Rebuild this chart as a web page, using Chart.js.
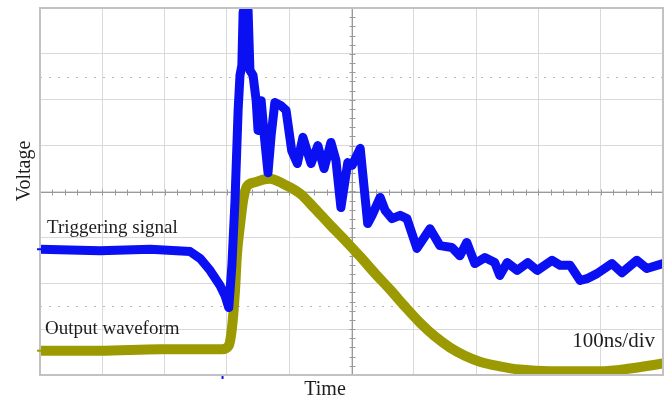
<!DOCTYPE html>
<html>
<head>
<meta charset="utf-8">
<script src="https://cdn.jsdelivr.net/npm/chart.js@4/dist/chart.umd.min.js"></script>
<style>
  html, body { margin: 0; padding: 0; background: #ffffff; }
  #wrap { width: 672px; height: 401px; position: relative; }
</style>
</head>
<body>
<div id="wrap"><canvas id="scope" width="672" height="401"></canvas></div>
<script>
// Oscilloscope capture: 10 horizontal divisions of 100 ns, 8 vertical divisions.
const timeTicks = [0, 100, 200, 300, 400, 500, 600, 700, 800, 900, 1000];   // ns
const voltTicks = [-4, -3, -2, -1, 0, 1, 2, 3, 4];                         // divisions

// Triggering signal (blue trace)
const trigTime = [0, 96, 177, 241, 257, 273, 289, 297, 303, 308, 313, 318, 321, 324, 326, 329, 334,
  337, 342, 347, 350, 355, 360, 366, 371, 377, 387, 395, 404, 413, 422, 435, 446, 456, 467, 475,
  483, 494, 501, 514, 526, 533, 546, 554, 565, 578, 589, 605, 626, 642, 661, 674, 685, 698, 714,
  730, 738, 750, 766, 783, 798, 822, 835, 851, 867, 878, 894, 918, 934, 958, 974, 1000];
const trigVolt = [-1.26, -1.29, -1.26, -1.31, -1.46, -1.72, -2.05, -2.27, -2.53, -1.61, -0.20, 1.77,
  2.53, 2.75, 3.90, 4.08, 3.95, 2.64, 2.53, 1.98, 1.33, 1.98, 1.22, 0.41, 1.22, 1.94, 1.87, 1.77,
  0.89, 0.61, 1.18, 0.61, 1.00, 0.50, 1.07, 0.68, -0.35, 0.63, 0.57, 0.94, -0.70, -0.52, -0.13,
  -0.41, -0.59, -0.52, -0.59, -1.24, -0.81, -1.18, -1.22, -1.40, -1.11, -1.57, -1.44, -1.55, -1.83,
  -1.55, -1.72, -1.55, -1.72, -1.50, -1.61, -1.61, -1.94, -1.90, -1.79, -1.57, -1.77, -1.50, -1.68,
  -1.57];

// Output waveform (olive trace)
const outTime = [0, 96, 193, 292, 303, 308, 313, 316, 321, 326, 332, 345, 358, 369, 390, 417, 441,
  465, 490, 514, 538, 562, 586, 610, 634, 658, 682, 706, 738, 770, 819, 899, 947, 1000];
const outVolt = [-3.47, -3.47, -3.44, -3.44, -3.36, -2.99, -2.16, -1.40, -0.74, -0.20, 0.11, 0.20,
  0.26, 0.28, 0.17, -0.04, -0.37, -0.72, -1.07, -1.42, -1.79, -2.14, -2.51, -2.86, -3.16, -3.40,
  -3.58, -3.71, -3.81, -3.88, -3.92, -3.92, -3.86, -3.75];

const seriesNames = ['Triggering signal', 'Output waveform'];
const axisNames = ['Time', 'Voltage'];
const scaleNote = '100ns/div';

const toPoints = (xs, ys) => xs.map((x, i) => ({ x: x, y: ys[i] }));

const BLUE = '#0a10f2';
const OLIVE = '#9c9a02';
const SERIF = '"Liberation Serif", "Times New Roman", serif';

// Graticule extras: centre axes with minor ticks, dotted cursor lines, frame, labels
const scopeDecor = {
  id: 'scopeDecor',
  beforeDatasetsDraw(chart) {
    const { ctx, chartArea: a, scales: { x, y } } = chart;
    ctx.save();
    // dotted cursor lines
    ctx.strokeStyle = '#b8b8b8';
    ctx.lineWidth = 1;
    ctx.setLineDash([2, 7]);
    [2.5, -2.5].forEach(v => {
      const py = Math.round(y.getPixelForValue(v)) + 0.5;
      ctx.beginPath(); ctx.moveTo(a.left, py); ctx.lineTo(a.right, py); ctx.stroke();
    });
    ctx.setLineDash([]);
    // centre axes
    const cx = Math.round(x.getPixelForValue(500)) + 0.5;
    const cy = Math.round(y.getPixelForValue(0)) + 0.5;
    ctx.strokeStyle = '#9a9a9a';
    ctx.lineWidth = 1;
    ctx.beginPath();
    ctx.moveTo(a.left, cy); ctx.lineTo(a.right, cy);
    ctx.moveTo(cx, a.top); ctx.lineTo(cx, a.bottom);
    ctx.stroke();
    ctx.beginPath();
    for (let t = 0; t <= 1000; t += 20) {
      const px = Math.round(x.getPixelForValue(t)) + 0.5;
      ctx.moveTo(px, cy - 3); ctx.lineTo(px, cy + 3);
    }
    for (let v = -4; v <= 4; v += 0.2) {
      const py = Math.round(y.getPixelForValue(v)) + 0.5;
      ctx.moveTo(cx - 3, py); ctx.lineTo(cx + 3, py);
    }
    ctx.stroke();
    ctx.restore();
  },
  afterDatasetsDraw(chart) {
    const { ctx, chartArea: a, scales: { x, y } } = chart;
    ctx.save();
    // frame
    ctx.strokeStyle = '#c2c2c2';
    ctx.lineWidth = 2;
    ctx.strokeRect(a.left, a.top, a.right - a.left, a.bottom - a.top);
    // channel level and trigger markers
    ctx.lineWidth = 2;
    ctx.strokeStyle = BLUE;
    ctx.beginPath();
    ctx.moveTo(a.left - 3, y.getPixelForValue(trigVolt[0]));
    ctx.lineTo(a.left + 1, y.getPixelForValue(trigVolt[0]));
    const trigX = x.getPixelForValue(293);
    ctx.moveTo(trigX, a.bottom + 1); ctx.lineTo(trigX, a.bottom + 4);
    ctx.stroke();
    ctx.strokeStyle = OLIVE;
    ctx.beginPath();
    ctx.moveTo(a.left - 3, y.getPixelForValue(outVolt[0]));
    ctx.lineTo(a.left + 1, y.getPixelForValue(outVolt[0]));
    ctx.stroke();
    // labels
    ctx.fillStyle = '#1e1e1e';
    ctx.textBaseline = 'alphabetic';
    ctx.font = '19px ' + SERIF;
    ctx.textAlign = 'left';
    ctx.fillText(seriesNames[0], a.left + 7, 233);
    ctx.fillText(seriesNames[1], a.left + 5, 334);
    ctx.font = '21px ' + SERIF;
    ctx.textAlign = 'right';
    ctx.fillText(scaleNote, a.right - 8, 347);
    ctx.font = '20px ' + SERIF;
    ctx.textAlign = 'center';
    ctx.fillText(axisNames[0], 325, 395);
    ctx.translate(30, 171);
    ctx.rotate(-Math.PI / 2);
    ctx.fillText(axisNames[1], 0, 0);
    ctx.restore();
  }
};

new Chart(document.getElementById('scope'), {
  type: 'line',
  data: {
    datasets: [
      {
        label: seriesNames[0],
        data: toPoints(trigTime, trigVolt),
        borderColor: BLUE,
        borderWidth: 9,
        pointRadius: 0,
        tension: 0,
        borderJoinStyle: 'round',
        borderCapStyle: 'round',
        order: 0
      },
      {
        label: seriesNames[1],
        data: toPoints(outTime, outVolt),
        borderColor: OLIVE,
        borderWidth: 10,
        pointRadius: 0,
        cubicInterpolationMode: 'monotone',
        borderJoinStyle: 'round',
        borderCapStyle: 'round',
        order: 1
      }
    ]
  },
  options: {
    responsive: false,
    animation: false,
    devicePixelRatio: 1,
    layout: { padding: { left: 0, top: 8, right: 9, bottom: 0 } },
    plugins: { legend: { display: false }, tooltip: { enabled: false } },
    scales: {
      x: {
        type: 'linear',
        min: timeTicks[0],
        max: timeTicks[timeTicks.length - 1],
        afterBuildTicks: s => { s.ticks = timeTicks.map(v => ({ value: v })); },
        afterFit: s => { s.height = 26; },
        ticks: { display: false },
        grid: { color: '#d9d9d9', lineWidth: 1, drawTicks: false },
        border: { display: false }
      },
      y: {
        type: 'linear',
        min: voltTicks[0],
        max: voltTicks[voltTicks.length - 1],
        afterBuildTicks: s => { s.ticks = voltTicks.map(v => ({ value: v })); },
        afterFit: s => { s.width = 40; },
        ticks: { display: false },
        grid: { color: '#d9d9d9', lineWidth: 1, drawTicks: false },
        border: { display: false }
      }
    }
  },
  plugins: [scopeDecor]
});
</script>
</body>
</html>
